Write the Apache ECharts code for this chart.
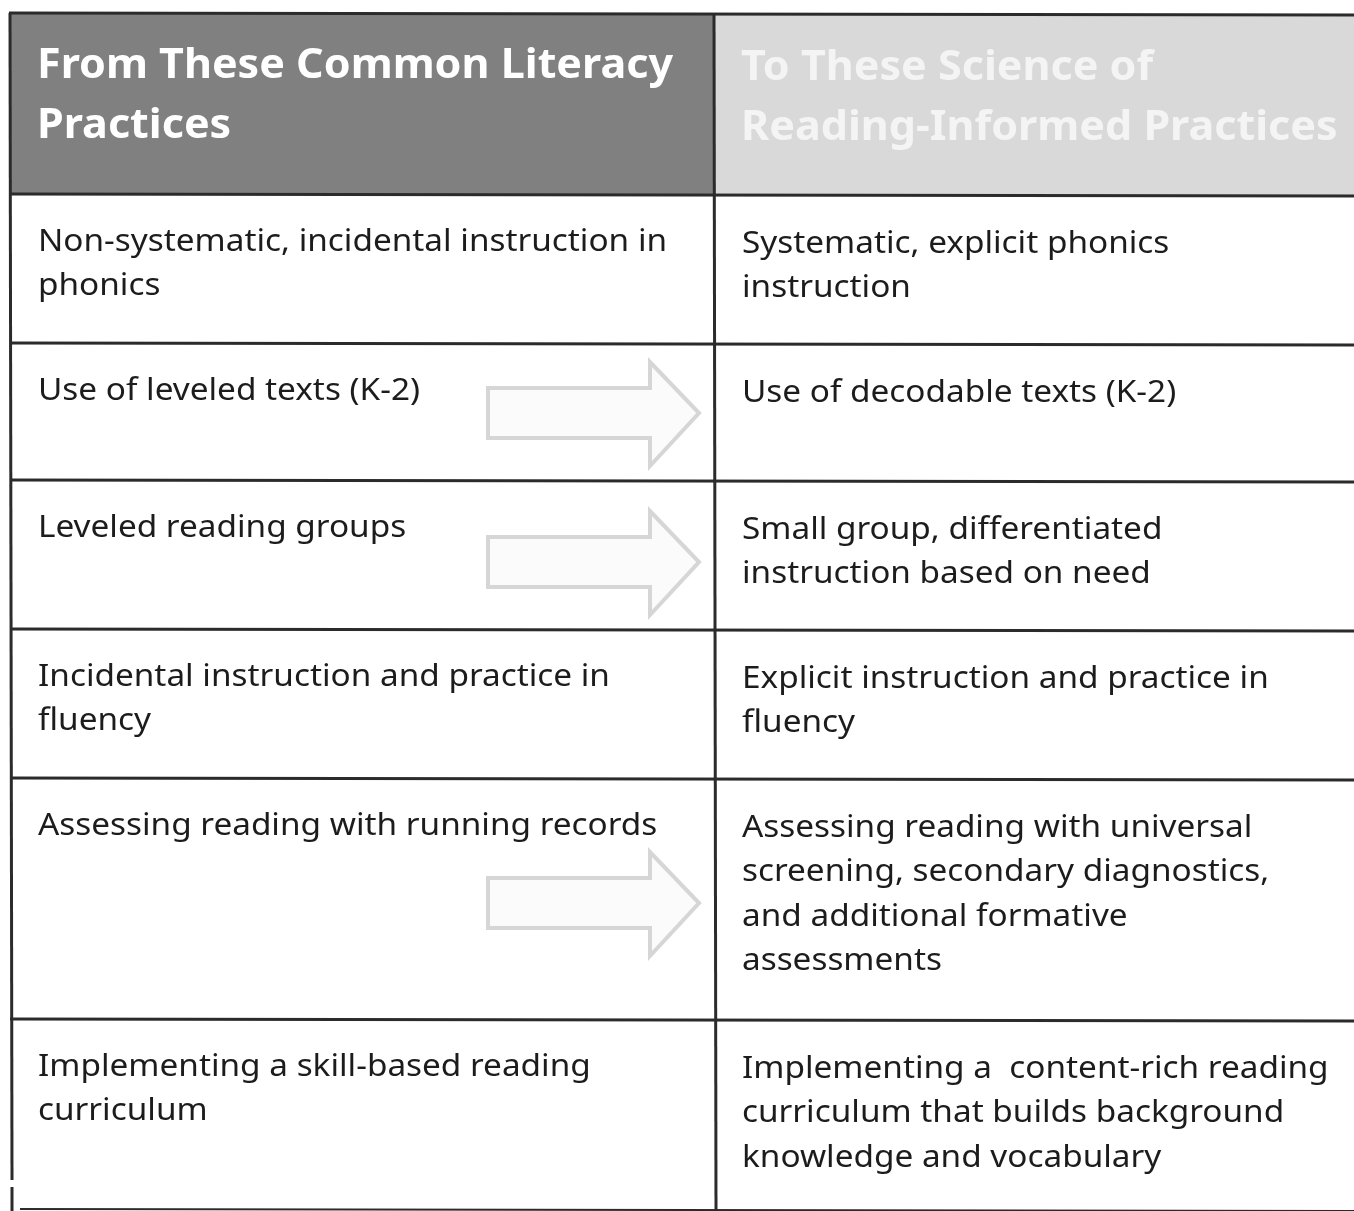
<!DOCTYPE html>
<html>
<head>
<meta charset="utf-8">
<script src="https://cdn.jsdelivr.net/npm/echarts@6/dist/echarts.min.js"></script>
<style>
html,body{margin:0;padding:0;background:#fff;}
#chart{width:1354px;height:1211px;}
</style>
</head>
<body>
<div id="chart"></div>
<script>
// ---- data ----
var headerFrom = ['From These Common Literacy', 'Practices'];
var headerTo = ['To These Science of', 'Reading-Informed Practices'];
var fromPractices = [
  ['Non-systematic, incidental instruction in', 'phonics'],
  ['Use of leveled texts (K-2)'],
  ['Leveled reading groups'],
  ['Incidental instruction and practice in', 'fluency'],
  ['Assessing reading with running records'],
  ['Implementing a skill-based reading', 'curriculum']
];
var toPractices = [
  ['Systematic, explicit phonics', 'instruction'],
  ['Use of decodable texts (K-2)'],
  ['Small group, differentiated', 'instruction based on need'],
  ['Explicit instruction and practice in', 'fluency'],
  ['Assessing reading with universal', 'screening, secondary diagnostics,', 'and additional formative', 'assessments'],
  ['Implementing a  content-rich reading', 'curriculum that builds background', 'knowledge and vocabulary']
];
var hasArrow = [false, true, true, false, true, false];

// ---- layout ----
var L = 10, M = 714, R = 1360;
var topY = 13, headerBottom = 194;
var rowLines = [194, 343, 480, 629, 778, 1019, 1209];
var arrowCenterY = [0, 413, 562, 0, 903, 0];
var lineGap = 44.5;
var bodyFont = '"Noto Sans", sans-serif';
var bodySize = 31, bodyScale = 1.075;
var headSize = 42, headScale = 1.025;
var lineColor = '#2b2b2b';

var els = [];
function txt(x, y, t, fill, size, weight, sx){
  return {type:'text', x:x, y:y, scaleX:sx, scaleY:1,
    style:{text:t, fill:fill, font:weight+' '+size+'px '+bodyFont, verticalAlign:'middle', align:'left'}};
}
// header fills
els.push({type:'rect', shape:{x:L, y:topY, width:M-L, height:headerBottom-topY}, style:{fill:'#808080'}});
els.push({type:'rect', shape:{x:M, y:topY+1, width:R-M, height:headerBottom-topY}, style:{fill:'#d9d9d9'}});
// header texts
headerFrom.forEach(function(t,i){
  els.push(txt(37, 66+i*60, t, '#ffffff', headSize, 'bold', headScale));
});
headerTo.forEach(function(t,i){
  els.push(txt(741, 68+i*60, t, '#f4f4f4', headSize, 'bold', headScale));
});
// body texts
fromPractices.forEach(function(lines,r){
  lines.forEach(function(t,i){
    els.push(txt(38, rowLines[r]+48+i*lineGap, t, '#1c1c1c', bodySize, 'normal', bodyScale));
  });
});
toPractices.forEach(function(lines,r){
  lines.forEach(function(t,i){
    els.push(txt(742, rowLines[r]+50+i*lineGap, t, '#1c1c1c', bodySize, 'normal', bodyScale));
  });
});
// arrows
hasArrow.forEach(function(a,r){
  if(!a) return;
  var cy = arrowCenterY[r];
  var pts = [[488,cy-25],[650,cy-25],[650,cy-51],[699,cy],[650,cy+53],[650,cy+25],[488,cy+25]];
  els.push({type:'polygon', shape:{points:pts}, style:{fill:'#fbfbfb', stroke:'#d6d6d6', lineWidth:4}});
});
// grid lines
els.push({type:'line', shape:{x1:L-1, y1:topY, x2:R, y2:topY+2}, style:{stroke:lineColor, lineWidth:3}});
rowLines.forEach(function(y,i){
  els.push({type:'line', shape:{x1:i===rowLines.length-1?20:L, y1:y, x2:R, y2:y+2}, style:{stroke:lineColor, lineWidth: i===rowLines.length-1?2:3}});
});
els.push({type:'line', shape:{x1:L, y1:topY, x2:L+2, y2:1180}, style:{stroke:lineColor, lineWidth:3}});
els.push({type:'line', shape:{x1:L+2, y1:1187, x2:L+2, y2:1211}, style:{stroke:lineColor, lineWidth:3}});
els.push({type:'line', shape:{x1:M, y1:topY, x2:M+2, y2:1211}, style:{stroke:lineColor, lineWidth:3}});

var chart = echarts.init(document.getElementById('chart'), null, {renderer:'canvas'});
chart.setOption({
  backgroundColor:'#ffffff',
  animation:false,
  graphic:{elements:els}
});
</script>
</body>
</html>
